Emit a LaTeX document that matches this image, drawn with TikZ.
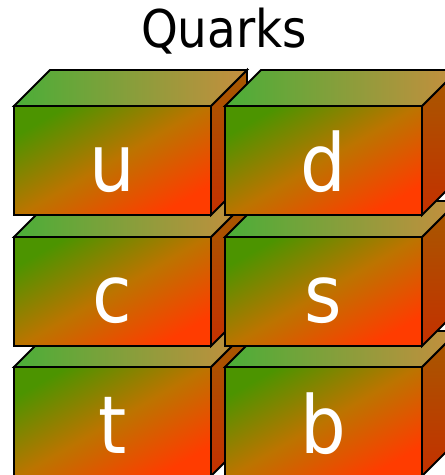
\documentclass[tikz,border=0pt]{standalone}
\usepackage{fontspec}
\setmainfont{DejaVu Sans}[FakeStretch=0.9]
\definecolor{frontgreen}{HTML}{4C9400}
\definecolor{frontmid}{HTML}{BC7400}
\definecolor{frontred}{HTML}{FF3C00}
\definecolor{topgreen}{HTML}{4AAE38}
\definecolor{toptan}{HTML}{C68E3E}
\definecolor{sidetop}{HTML}{A65A00}
\definecolor{sidebot}{HTML}{C43000}

\begin{document}
\begin{tikzpicture}[x=1pt, y=1pt,
    frontface/.style={draw=black, line width=1.8pt, top color=frontgreen,
      bottom color=frontred, middle color=frontmid, shading angle=30},
    topface/.style={draw=black, line width=1.8pt, left color=topgreen,
      right color=toptan},
    sideface/.style={draw=black, line width=1.8pt, top color=sidetop,
      bottom color=sidebot},
    quark/.style={anchor=base, text=white, inner sep=0pt,
      font=\fontsize{80}{80}\selectfont}]
  \useasboundingbox (0,0) rectangle (445,475);
  \clip (0,0) rectangle (445,475);
  \node[anchor=base, font=\fontsize{52}{52}\selectfont] (title)
    at (224,427) {Quarks};
  % lowest row first, so the upper boxes hide their tops
  \foreach \x/\y/\q in {14/-1/t, 225/-1/b, 14/129/c, 225/129/s,
      14/260/u, 225/260/d} {
    \shadedraw[sideface] (\x+197,\y) -- ++(36,36) -- ++(0,109)
      -- ++(-36,-36) -- cycle;
    \shadedraw[topface] (\x,\y+109) -- ++(36,36) -- ++(197,0)
      -- ++(-36,-36) -- cycle;
    \shadedraw[frontface] (\x,\y) rectangle ++(197,109);
    \node[quark] (q\q) at (\x+98.5,\y+23) {\q};
  }
\end{tikzpicture}
\end{document}
